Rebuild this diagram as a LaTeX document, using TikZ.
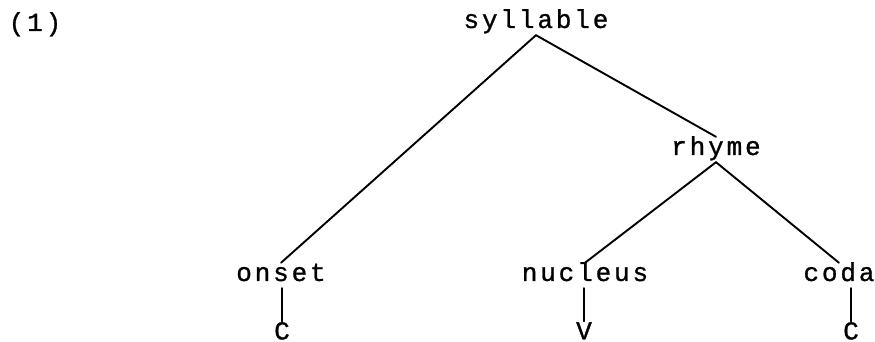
\documentclass[tikz,border=0pt]{standalone}
\usepackage{fontspec}
\newfontfamily\tw[LetterSpace=11,FakeBold=1]{Liberation Mono}
\begin{document}
\begin{tikzpicture}[x=1pt,y=1pt,
  lbl/.style={font=\tw\fontsize{26}{30}\selectfont, anchor=base, inner sep=2.5pt, text height=15.5pt, text depth=4.5pt},
  bottom/.style={lbl, text depth=0pt, inner sep=1pt},
  edge/.style={line width=1.9pt, line cap=round}]
\useasboundingbox (0,0) rectangle (875,342);
\node[lbl] (num) at (35,311) {(1)};
\node[lbl] (syl) at (536,314) {syllable};
\node[lbl] (rhy) at (716,187) {rhyme};
\node[lbl] (ons) at (281,61) {onset};
\node[lbl] (nuc) at (585,61) {nucleus};
\node[lbl] (cod) at (839,61) {coda};
\node[bottom] (c1) at (282,2.5) {C};
\node[bottom] (v) at (584,2.5) {V};
\node[bottom] (c2) at (851,2.5) {C};
\draw[edge] (syl.south) -- (ons.north);
\draw[edge] (syl.south) -- (rhy.north);
\draw[edge] (rhy.south) -- (nuc.north);
\draw[edge] (rhy.south) -- (cod.north);
\draw[edge] (ons.south -| c1) -- ([yshift=1.5pt]c1.north);
\draw[edge] (nuc.south -| v) -- ([yshift=1.5pt]v.north);
\draw[edge] (cod.south -| c2) -- ([yshift=1.5pt]c2.north);
\end{tikzpicture}
\end{document}
